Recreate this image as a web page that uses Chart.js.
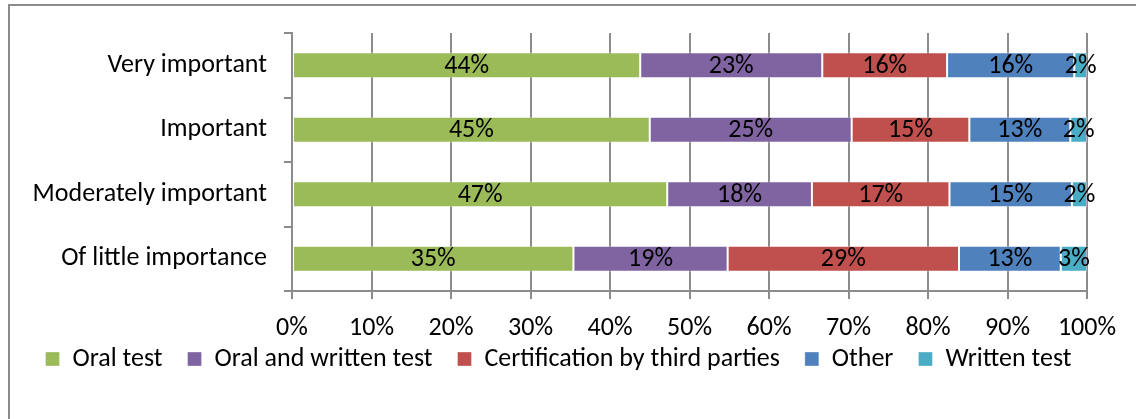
<!DOCTYPE html>
<html>
<head>
<meta charset="utf-8">
<script src="https://cdn.jsdelivr.net/npm/chart.js@4/dist/chart.umd.min.js"></script>
<style>
    html, body { margin: 0; padding: 0; background: #fff; }
    body { width: 1136px; height: 419px; position: relative; overflow: hidden; }
    .frame {
        position: absolute; left: 8px; top: 4px; width: 1200px; height: 430px;
        border: 2px solid #8c8c8c; box-sizing: border-box;
    }
    #chart { position: absolute; left: 0; top: 0; }
</style>
</head>
<body>
<div class="frame"></div>
<canvas id="chart" width="1136" height="419"></canvas>
<script>
// Data (percent of each row)
const categories = ['Very important', 'Important', 'Moderately important', 'Of little importance'];
const seriesNames = ['Oral test', 'Oral and written test', 'Certification by third parties', 'Other', 'Written test'];
const oralTest = [43.8, 45.0, 47.2, 35.4];
const oralWritten = [22.9, 25.4, 18.2, 19.4];
const certification = [15.7, 14.8, 17.3, 29.1];
const other = [16.0, 12.7, 15.4, 12.8];
const writtenTest = [1.6, 2.1, 1.9, 3.3];
const xTicks = [0, 10, 20, 30, 40, 50, 60, 70, 80, 90, 100];

const colors = ['#9BBB59', '#8064A2', '#C0504D', '#4F81BD', '#4BACC6'];
const FONT = 'Carlito, Lato, "Noto Sans", sans-serif';
const FONT_SIZE = 26;

// Draw percentage labels centered in each segment
const segmentLabels = {
    id: 'segmentLabels',
    afterDatasetsDraw(chart) {
        const ctx = chart.ctx;
        ctx.save();
        ctx.font = FONT_SIZE + 'px ' + FONT;
        ctx.fillStyle = '#000';
        ctx.textAlign = 'center';
        ctx.textBaseline = 'middle';
        chart.data.datasets.forEach((ds, i) => {
            const meta = chart.getDatasetMeta(i);
            meta.data.forEach((bar, j) => {
                const x = (bar.x + bar.base) / 2;
                ctx.fillText(Math.round(ds.data[j]) + '%', x, bar.y + 1);
            });
        });
        ctx.restore();
    }
};

// Legend needs wide item spacing, so pull it up closer to the axis labels
const legendShift = {
    id: 'legendShift',
    afterLayout(chart) {
        const lg = chart.legend;
        if (!lg) return;
        lg.top -= 20;
        lg.bottom -= 20;
        lg.left += 15;
        lg.right += 15;
    }
};

const allSeries = [oralTest, oralWritten, certification, other, writtenTest];

new Chart(document.getElementById('chart').getContext('2d'), {
    type: 'bar',
    data: {
        labels: categories,
        datasets: allSeries.map((vals, i) => ({
            label: seriesNames[i],
            data: vals,
            backgroundColor: colors[i],
            borderColor: 'rgba(255,255,255,0.35)',
            borderWidth: 1,
            borderSkipped: false,
            categoryPercentage: 1,
            barPercentage: 0.4
        }))
    },
    options: {
        indexAxis: 'y',
        responsive: false,
        animation: false,
        layout: {
            padding: { top: 33, right: 49, left: 0, bottom: 17 }
        },
        plugins: {
            legend: {
                position: 'bottom',
                labels: {
                    boxWidth: 14,
                    boxHeight: 14,
                    padding: 25,
                    color: '#000',
                    font: { family: FONT, size: FONT_SIZE }
                }
            },
            tooltip: { enabled: false }
        },
        scales: {
            x: {
                stacked: true,
                min: 0,
                max: 100,
                afterFit: (scale) => { scale.height = 50; },
                afterBuildTicks: (scale) => {
                    scale.ticks = xTicks.map(v => ({ value: v }));
                },
                ticks: {
                    callback: (v) => v + '%',
                    color: '#000',
                    padding: 14,
                    maxRotation: 0,
                    font: { family: FONT, size: FONT_SIZE }
                },
                grid: {
                    color: '#8c8c8c',
                    lineWidth: 2,
                    tickLength: 8
                },
                border: { color: '#8c8c8c', width: 2 }
            },
            y: {
                stacked: true,
                afterFit: (scale) => { scale.width = 292; },
                ticks: {
                    color: '#000',
                    padding: 17,
                    font: { family: FONT, size: FONT_SIZE }
                },
                grid: {
                    drawOnChartArea: false,
                    color: '#8c8c8c',
                    lineWidth: 2,
                    tickLength: 8
                },
                border: { color: '#8c8c8c', width: 2 }
            }
        }
    },
    plugins: [segmentLabels, legendShift]
});
</script>
</body>
</html>
